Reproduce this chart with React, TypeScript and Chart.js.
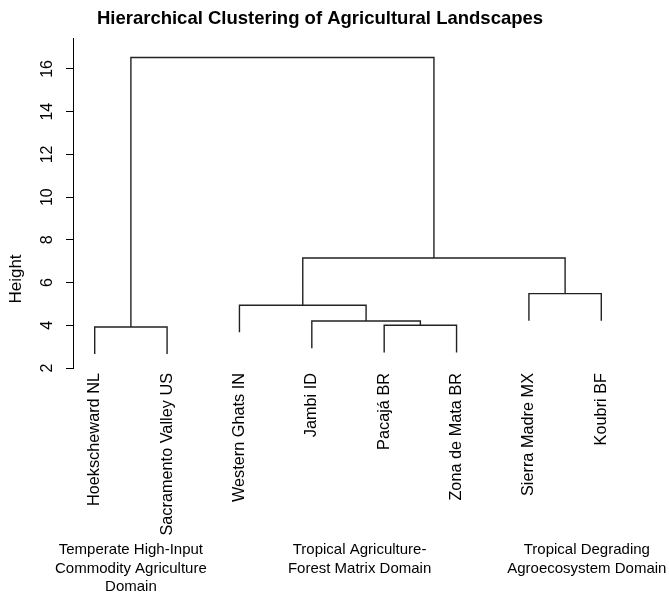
import { useEffect, useRef } from "react";
import { Chart, registerables } from "chart.js";

Chart.register(...registerables);

// Leaves in dendrogram order (x = 1..8)
const LEAVES = [
  "Hoekscheward NL",
  "Sacramento Valley US",
  "Western Ghats IN",
  "Jambi ID",
  "Pacajá BR",
  "Zona de Mata BR",
  "Sierra Madre MX",
  "Koubri BF",
];

// R-style merge matrix: negative = leaf (1-based position), positive = earlier merge (1-based)
const MERGE_A = [-5, -4, -1, -3, -7, 4, 3];
const MERGE_B = [-6, 1, -2, 2, -8, 5, 6];
const MERGE_HEIGHT = [4.0, 4.2, 3.92, 4.94, 5.48, 7.15, 16.54];
const HANG = 1.27;

const Y_TICKS = [2, 4, 6, 8, 10, 12, 14, 16];

const DOMAIN_LABELS = [
  ["Temperate High-Input", "Commodity Agriculture", "Domain"],
  ["Tropical Agriculture-", "Forest Matrix Domain"],
  ["Tropical Degrading", "Agroecosystem Domain"],
];
const DOMAIN_CENTER = [1.5, 4.66, 7.8];

const TITLE = "Hierarchical Clustering of Agricultural Landscapes";
const Y_TITLE = "Height";

const FONT = "'Liberation Sans', Arial, Helvetica, sans-serif";

function buildSegments() {
  const nodeX: number[] = [];
  const childX = (c: number) => (c < 0 ? -c : nodeX[c - 1]);
  const childBottom = (c: number, h: number) =>
    c < 0 ? h - HANG : MERGE_HEIGHT[c - 1];
  const sets: { x: number; y: number }[][] = [];
  for (let i = 0; i < MERGE_HEIGHT.length; i++) {
    const a = MERGE_A[i];
    const b = MERGE_B[i];
    const h = MERGE_HEIGHT[i];
    const xa = childX(a);
    const xb = childX(b);
    nodeX.push((xa + xb) / 2);
    sets.push([
      { x: xa, y: childBottom(a, h) },
      { x: xa, y: h },
      { x: xb, y: h },
      { x: xb, y: childBottom(b, h) },
    ]);
  }
  return sets;
}

const textPlugin = {
  id: "dendroText",
  afterDraw(chart: any) {
    const ctx = chart.ctx;
    const ys = chart.scales.y;
    const xs = chart.scales.x;
    ctx.save();
    ctx.fillStyle = "#000";
    // title
    ctx.font = `bold 18.5px ${FONT}`;
    ctx.textAlign = "center";
    ctx.textBaseline = "middle";
    ctx.fillText(TITLE, 320, 19);
    // y tick labels (rotated, parallel to axis)
    ctx.font = `16px ${FONT}`;
    for (const t of Y_TICKS) {
      const y = ys.getPixelForValue(t);
      ctx.save();
      ctx.translate(48, y);
      ctx.rotate(-Math.PI / 2);
      ctx.textAlign = "center";
      ctx.textBaseline = "middle";
      ctx.fillText(String(t), 0, 0);
      ctx.restore();
    }
    // y title
    ctx.font = `17px ${FONT}`;
    ctx.save();
    ctx.translate(16, 279);
    ctx.rotate(-Math.PI / 2);
    ctx.textAlign = "center";
    ctx.textBaseline = "middle";
    ctx.fillText(Y_TITLE, 0, 0);
    ctx.restore();
    // domain labels
    ctx.font = `15px ${FONT}`;
    ctx.textAlign = "center";
    ctx.textBaseline = "middle";
    DOMAIN_LABELS.forEach((lines, i) => {
      const x = xs.getPixelForValue(DOMAIN_CENTER[i]);
      lines.forEach((ln, j) => {
        ctx.fillText(ln, x, 550 + j * 18.5);
      });
    });
    ctx.restore();
  },
};

export default function App() {
  const ref = useRef<HTMLCanvasElement | null>(null);
  useEffect(() => {
    if (!ref.current) return;
    const segs = buildSegments();
    const chart = new Chart(ref.current, {
      type: "line",
      data: {
        datasets: segs.map((pts) => ({
          data: pts,
          borderColor: "#222",
          borderWidth: 1.4,
          pointRadius: 0,
          pointHoverRadius: 0,
          tension: 0,
          fill: false,
        })),
      },
      options: {
        animation: false,
        responsive: false,
        devicePixelRatio: 1,
        events: [],
        layout: { padding: { top: 38, right: 46, left: 0, bottom: 0 } },
        plugins: {
          legend: { display: false },
          title: { display: false },
          tooltip: { enabled: false },
        },
        scales: {
          x: {
            type: "linear",
            min: 0.7,
            max: 8.3,
            afterBuildTicks: (scale: any) => {
              scale.ticks = LEAVES.map((_, i) => ({ value: i + 1 }));
            },
            afterFit: (scale: any) => {
              scale.height = 228;
            },
            ticks: {
              autoSkip: false,
              minRotation: 90,
              maxRotation: 90,
              padding: 5,
              color: "#000",
              font: { family: FONT, size: 16.3 },
              callback: (v: any) => LEAVES[Number(v) - 1] ?? "",
            },
            grid: { display: false, drawTicks: false },
            border: { display: false },
          },
          y: {
            type: "linear",
            min: 2,
            max: 17.45,
            afterBuildTicks: (scale: any) => {
              scale.ticks = Y_TICKS.map((v) => ({ value: v }));
            },
            afterFit: (scale: any) => {
              scale.width = 73;
            },
            ticks: { display: false },
            grid: {
              drawOnChartArea: false,
              drawTicks: true,
              tickLength: 7,
              tickColor: "#000",
              color: "#000",
              lineWidth: 1,
            },
            border: { display: true, color: "#000", width: 1 },
          },
        },
      },
      plugins: [textPlugin],
    });
    return () => chart.destroy();
  }, []);
  return (
    <div style={{ position: "absolute", left: 0, top: 0, width: 669, height: 596, background: "#fff" }}>
      <canvas ref={ref} width={669} height={596} style={{ width: 669, height: 596 }} />
    </div>
  );
}
